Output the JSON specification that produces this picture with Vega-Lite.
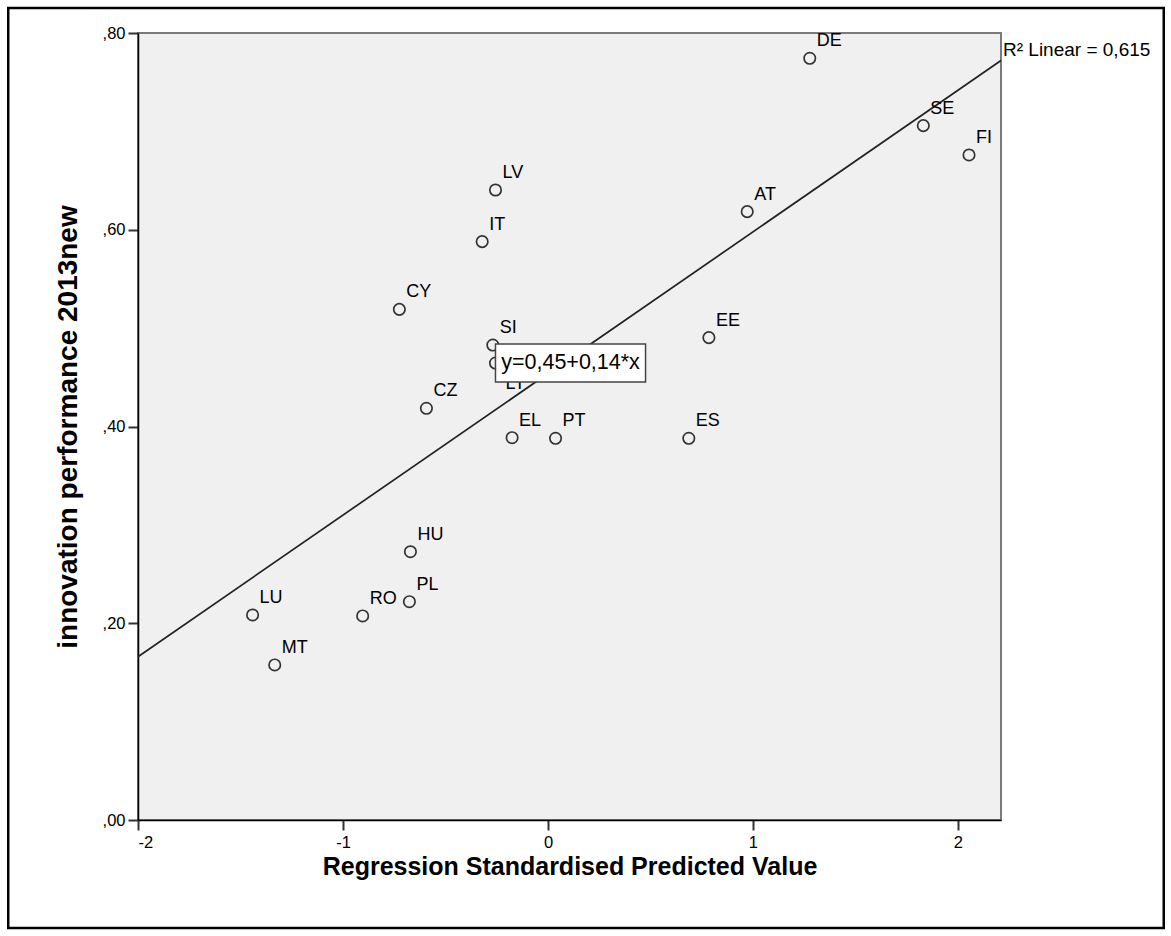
{
  "$schema": "https://vega.github.io/schema/vega-lite/v6.json",
  "width": 863,
  "height": 787,
  "autosize": "none",
  "padding": {"left": 138, "top": 33, "right": 170, "bottom": 116},
  "background": "white",
  "config": {
    "font": "Liberation Sans",
    "view": {"fill": "#f0f0f0", "stroke": "#7a7a7a", "strokeWidth": 2},
    "axis": {
      "grid": false,
      "domainColor": "#000000",
      "domainWidth": 1.5,
      "tickColor": "#333333",
      "tickWidth": 2,
      "tickSize": 10,
      "labelColor": "#000000",
      "labelFont": "Liberation Sans",
      "labelFontSize": 16.5,
      "titleColor": "#000000",
      "titleFont": "Liberation Sans",
      "titleFontSize": 25,
      "titleFontWeight": "bold"
    }
  },
  "datasets": {
    "points": [
      {"code": "DE", "pred": 1.277, "innov": 0.7743},
      {"code": "SE", "pred": 1.831, "innov": 0.7058},
      {"code": "FI", "pred": 2.054, "innov": 0.676},
      {"code": "LV", "pred": -0.256, "innov": 0.6404},
      {"code": "AT", "pred": 0.972, "innov": 0.6184},
      {"code": "IT", "pred": -0.321, "innov": 0.5879},
      {"code": "CY", "pred": -0.725, "innov": 0.5191},
      {"code": "EE", "pred": 0.785, "innov": 0.4903},
      {"code": "SI", "pred": -0.269, "innov": 0.4828},
      {"code": "LT", "pred": -0.256, "innov": 0.4645},
      {"code": "CZ", "pred": -0.593, "innov": 0.4185},
      {"code": "EL", "pred": -0.175, "innov": 0.3886},
      {"code": "PT", "pred": 0.037, "innov": 0.388},
      {"code": "ES", "pred": 0.687, "innov": 0.388},
      {"code": "HU", "pred": -0.671, "innov": 0.2727},
      {"code": "PL", "pred": -0.676, "innov": 0.2219},
      {"code": "LU", "pred": -1.441, "innov": 0.2084},
      {"code": "RO", "pred": -0.904, "innov": 0.2074},
      {"code": "MT", "pred": -1.333, "innov": 0.1576}
    ],
    "fit": [
      {"pred": -2, "innov": 0.166},
      {"pred": 2.21, "innov": 0.772}
    ],
    "eqbox": [
      {"x1": -0.256, "x2": 0.476, "y1": 0.4839, "y2": 0.4452, "xc": 0.11, "yc": 0.4646, "label": "y=0,45+0,14*x"}
    ],
    "r2": [
      {"pred": 2.21, "innov": 0.783, "label": "R² Linear = 0,615"}
    ],
    "frame": [
      {"x1": -2.633, "x2": 3.004, "y1": 0.8254, "y2": -0.1098}
    ]
  },
  "layer": [
    {
      "data": {"name": "frame"},
      "mark": {"type": "rect", "fill": null, "stroke": "#000000", "strokeWidth": 2.5, "clip": false},
      "encoding": {
        "x": {"field": "x1", "type": "quantitative", "scale": {"domain": [-2, 2.21], "nice": false, "zero": false}},
        "x2": {"field": "x2"},
        "y": {"field": "y1", "type": "quantitative", "scale": {"domain": [0, 0.8], "nice": false, "zero": false}},
        "y2": {"field": "y2"}
      }
    },
    {
      "data": {"name": "fit"},
      "mark": {"type": "line", "color": "#222222", "strokeWidth": 1.7},
      "encoding": {
        "x": {"field": "pred", "type": "quantitative"},
        "y": {"field": "innov", "type": "quantitative"}
      }
    },
    {
      "data": {"name": "points"},
      "mark": {"type": "point", "shape": "circle", "filled": false, "size": 130, "stroke": "#333333", "strokeWidth": 1.7, "opacity": 1},
      "encoding": {
        "x": {
          "field": "pred", "type": "quantitative",
          "axis": {
            "title": "Regression Standardised Predicted Value",
            "values": [-2, -1, 0, 1, 2],
            "labelExpr": "datum.value < 0 ? '-' + abs(datum.value) : '' + datum.value",
            "labelPadding": 4,
            "titlePadding": 4
          }
        },
        "y": {
          "field": "innov", "type": "quantitative",
          "axis": {
            "title": "innovation performance 2013new",
            "titleFontSize": 28,
            "values": [0, 0.2, 0.4, 0.6, 0.8],
            "labelExpr": "replace(format(datum.value, '.2f'), '0.', ',')",
            "labelPadding": 3,
            "titlePadding": 20
          }
        }
      }
    },
    {
      "data": {"name": "points"},
      "transform": [{"filter": "datum.code !== 'LT'"}],
      "mark": {"type": "text", "align": "left", "baseline": "alphabetic", "dx": 7, "dy": -12, "fontSize": 18, "color": "#000000"},
      "encoding": {
        "x": {"field": "pred", "type": "quantitative"},
        "y": {"field": "innov", "type": "quantitative"},
        "text": {"field": "code"}
      }
    },
    {
      "data": {"name": "points"},
      "transform": [{"filter": "datum.code === 'LT'"}],
      "mark": {"type": "text", "align": "left", "baseline": "alphabetic", "dx": 10, "dy": 26, "fontSize": 18, "color": "#000000"},
      "encoding": {
        "x": {"field": "pred", "type": "quantitative"},
        "y": {"field": "innov", "type": "quantitative"},
        "text": {"field": "code"}
      }
    },
    {
      "data": {"name": "eqbox"},
      "mark": {"type": "rect", "fill": "#ffffff", "stroke": "#444444", "strokeWidth": 1.5},
      "encoding": {
        "x": {"field": "x1", "type": "quantitative"},
        "x2": {"field": "x2"},
        "y": {"field": "y1", "type": "quantitative"},
        "y2": {"field": "y2"}
      }
    },
    {
      "data": {"name": "eqbox"},
      "mark": {"type": "text", "align": "center", "baseline": "middle", "fontSize": 21.5, "color": "#000000"},
      "encoding": {
        "x": {"field": "xc", "type": "quantitative"},
        "y": {"field": "yc", "type": "quantitative"},
        "text": {"field": "label"}
      }
    },
    {
      "data": {"name": "r2"},
      "mark": {"type": "text", "align": "left", "baseline": "middle", "dx": 2, "fontSize": 19, "color": "#000000", "clip": false},
      "encoding": {
        "x": {"field": "pred", "type": "quantitative"},
        "y": {"field": "innov", "type": "quantitative"},
        "text": {"field": "label"}
      }
    }
  ]
}
